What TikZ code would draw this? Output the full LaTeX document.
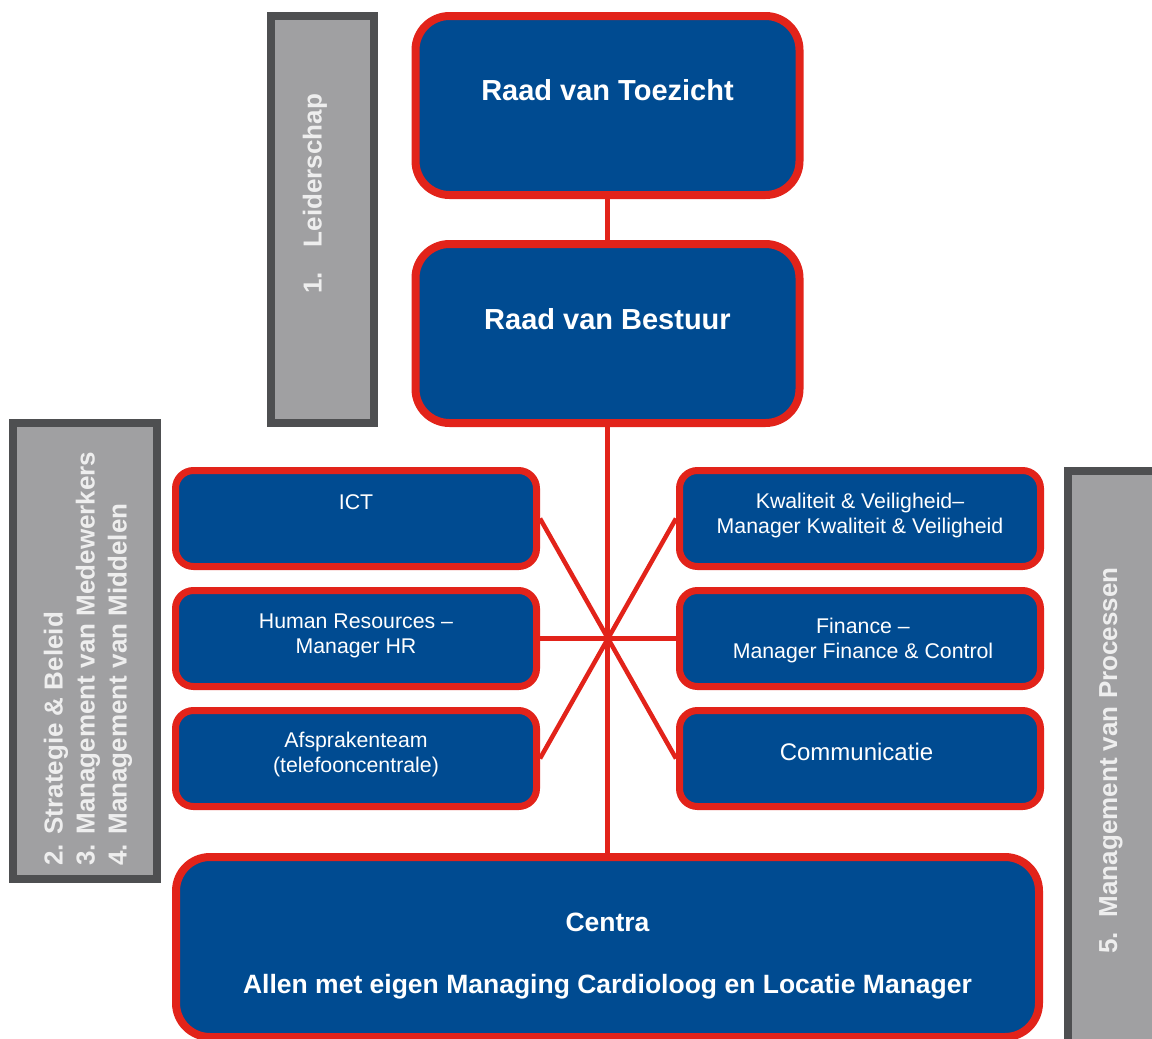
\documentclass[tikz,border=0pt]{standalone}
\usepackage{fontspec}
\setmainfont{Liberation Sans}
\usetikzlibrary{positioning}
\definecolor{hartblue}{HTML}{004B91}
\definecolor{hartred}{HTML}{E2231A}
\definecolor{pillargray}{HTML}{A0A0A2}
\definecolor{pillaredge}{HTML}{4E4F51}
\definecolor{pillarink}{HTML}{EEEEEE}

\begin{document}
\begin{tikzpicture}[x=1pt, y=-1pt,
  board/.style={draw=hartred, fill=hartblue, line width=8pt,
                rounded corners=34pt, minimum width=384pt,
                minimum height=179pt, inner sep=0pt},
  unit/.style={draw=hartred, fill=hartblue, line width=7pt,
               rounded corners=18pt, minimum width=361pt,
               minimum height=96pt, inner sep=0pt},
  pillar/.style={draw=pillaredge, fill=pillargray, line width=8pt, inner sep=0pt},
  boardtext/.style={text=white, font=\fontsize{29}{34}\selectfont\bfseries,
                    align=center, inner sep=0pt},
  unittext/.style={text=white, font=\fontsize{21.3}{25}\selectfont,
                   align=center, inner sep=0pt},
  pillartext/.style={text=pillarink, font=\fontsize{26}{32}\selectfont\bfseries,
                     rotate=90, inner sep=0pt},
  link/.style={draw=hartred, line width=4.5pt}
]
  \useasboundingbox (0,0) rectangle (1152,1039);
  \clip (0,0) rectangle (1152,1039);

  %% Pillars
  \node[pillar, minimum width=103pt, minimum height=407pt] (leider) at (322.5,219.5) {};
  \node[pillartext] (leiderText) at (315,194) {1.\hspace{25pt}Leiderschap};

  \node[pillar, minimum width=144pt, minimum height=456pt] (pijlerL) at (85,651) {};
  \node[pillartext, anchor=west, align=left] (pijlerLText) at (88,866)
    {2. Strategie \& Beleid\\3. Management van Medewerkers\\4. Management van Middelen};

  \node[pillar, minimum width=100pt, minimum height=587pt] (pijlerR) at (1118,764.5) {};
  \node[pillartext, anchor=west] (pijlerRText) at (1111,954)
    {5.\hspace{15pt}Management van Processen};

  %% Boards
  \node[board, label={[boardtext, yshift=15.5pt]center:Raad van Toezicht}] (rvt)
    at (607.5,105.5) {};
  \node[board, below=41pt of rvt,
        label={[boardtext, yshift=14pt]center:Raad van Bestuur}] (rvb) {};

  %% Staff units
  \node[unit, label={[unittext, yshift=16.5pt]center:ICT}] (ict) at (356,518.5) {};
  \node[unit, below=17pt of ict,
        label={[unittext, yshift=3pt]center:{Human Resources –\\Manager HR}}] (hr) {};
  \node[unit, below=17pt of hr,
        label={[unittext, yshift=4pt]center:{Afsprakenteam\\(telefooncentrale)}}] (afspraak) {};

  \node[unit, right=136pt of ict,
        label={[unittext, yshift=3pt]center:{Kwaliteit \& Veiligheid–\\Manager Kwaliteit \& Veiligheid}}] (kwal) {};
  \node[unit, right=136pt of hr,
        label={[unittext, xshift=3pt, yshift=-2pt]center:{Finance –\\Manager Finance \& Control}}] (finance) {};
  \node[unit, right=136pt of afspraak,
        label={[unittext, font=\fontsize{24}{28}\selectfont, xshift=-3.5pt, yshift=6.5pt]center:Communicatie}] (comm) {};

  %% Centres
  \node[board, minimum width=863pt, minimum height=180pt,
        label={[boardtext, font=\fontsize{26.5}{31}\selectfont\bfseries, yshift=-9pt]center:{Centra\\[31pt]Allen met eigen Managing Cardioloog en Locatie Manager}}] (centra)
    at (607.5,947) {};

  %% Links
  \draw[link] (rvt) -- (rvb);
  \draw[link] (rvb) -- (centra);
  \draw[link] (ict.east) -- (comm.west);
  \draw[link] (afspraak.east) -- (kwal.west);
  \draw[link] (hr) -- (finance);

\end{tikzpicture}
\end{document}
